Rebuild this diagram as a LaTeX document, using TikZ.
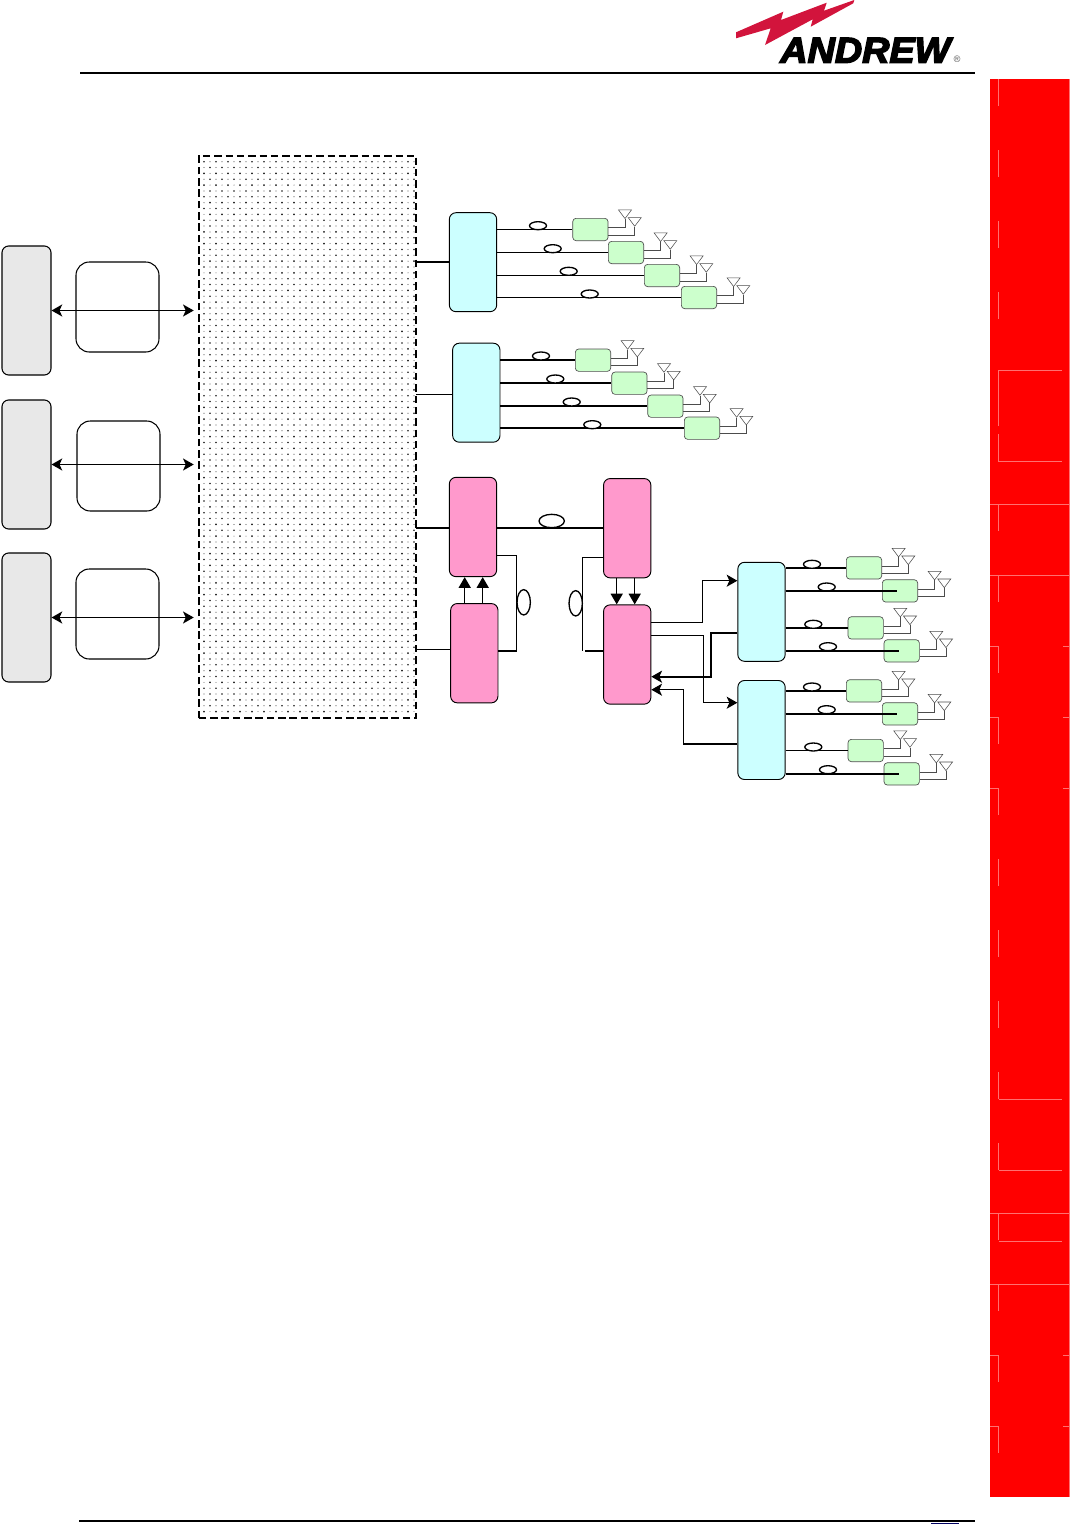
\documentclass[tikz,border=0pt]{standalone}
\usepackage{fontspec}
\usepackage{tikz}
\usetikzlibrary{arrows.meta,shapes.geometric}
\newfontfamily\logofont[UprightFont=* Bold Italic,FakeBold=4]{Liberation Sans}
\definecolor{Bolt}{HTML}{D2143C}
\definecolor{Aqua}{HTML}{CCFFFF}
\definecolor{Mint}{HTML}{CCFFCC}
\definecolor{Rose}{HTML}{FF99CC}
\definecolor{Stone}{HTML}{E8E8E8}
\definecolor{Tab}{HTML}{FF7070}
\definecolor{Navy}{HTML}{000060}

\begin{document}
\begin{tikzpicture}[
    x=0.75pt,y=-0.75pt,
    host/.style={draw,line width=0.8pt,rounded corners=5pt,fill=Stone,minimum width=36.75pt,minimum height=96.75pt},
    link/.style={draw,line width=0.8pt,rounded corners=10pt,fill=white,minimum width=62.25pt,minimum height=67.5pt},
    split/.style={draw,line width=0.7pt,rounded corners=5pt,fill=Aqua,minimum width=35.5pt,minimum height=74.25pt},
    conv/.style={draw,line width=0.7pt,rounded corners=5pt,fill=Rose,minimum width=35.5pt,minimum height=74.5pt},
    remote/.style={draw=black!70,line width=0.5pt,rounded corners=2.5pt,fill=Mint,minimum width=26.5pt,minimum height=16.75pt},
    coil/.style={ellipse,draw,line width=1pt,fill=white,inner sep=0pt,minimum width=12.75pt,minimum height=6pt},
    bigcoil/.style={ellipse,draw,line width=1pt,fill=white,inner sep=0pt,minimum width=19pt,minimum height=10pt},
    ant/.style={isosceles triangle,isosceles triangle apex angle=74,shape border rotate=270,draw=black!70,
      line width=0.4pt,fill=white,inner sep=0pt,minimum size=6.5pt,anchor=apex},
    feed/.style={line width=1.1pt},
    heavy/.style={line width=1.6pt},
    wire/.style={black!70,line width=0.6pt},
    both/.style={line width=1.1pt,{Stealth[length=8pt,width=9pt,inset=2pt]}-{Stealth[length=8pt,width=9pt,inset=2pt]}},
    route/.style={line width=1.1pt,-{Stealth[length=8pt,width=9pt,inset=2pt]}},
    push/.style={line width=1.1pt,-{Triangle[length=8pt,width=9pt]}},
    tabline/.style={Tab,line width=0.6pt}
  ]
    \useasboundingbox (0,0) rectangle (1070,1524);
    % page furniture
    \fill[Bolt] (736,32.3)--(783.3,11.7)--(781,20)--(826.7,2.7)--(824,10.7)--(854.3,0)--(853.3,3.3)
      --(810.7,26.7)--(812.7,19.3)--(765,45)--(770.7,28.3)--(736,38.3)--cycle;
    \node[anchor=base west,inner sep=0pt,xscale=1.05] (logo) at (780,62.7) {\logofont\fontsize{27}{27}\selectfont ANDREW};
    \node[inner sep=0pt,font=\fontsize{7}{7}\selectfont\sffamily,text=black!75] (reg) at (957,59) {\textregistered};
    \draw[line width=1.5pt] (80,72.8)--(975,72.8);
    \draw[line width=0.9pt] (79,1521)--(975,1521);
    \draw[Navy,line width=0.6pt] (931,1523.3)--(959,1523.3);
    \fill[red] (990,79) rectangle (1069,1497);
    \draw[tabline] (1069.5,79)--(1069.5,1497);
    \foreach \y in {79,150,221,292,504,575,646,717,788,859,930,1001,1072,1143,1213,1284,1355,1426}
      \draw[tabline] (998.5,\y)--++(0,27);
    \draw[tabline] (1062,370)--(998.5,370)--(998.5,426);
    \draw[tabline] (998.5,434)--(998.5,461)--(1062,461);
    \foreach \y in {1099,1170,1241}
      \draw[tabline] (998.5,\y)--(1062,\y);
    \foreach \y in {504,575,1213,1284}
      \draw[tabline] (990,\y)--(1069,\y);
    \foreach \y in {646,717,788,1355,1426} {
      \draw[tabline] (990,\y)--(998.5,\y);
      \draw[tabline] (1063,\y)--(1069,\y);
    }
    % network block
    \node[draw=none,minimum width=162.75pt,minimum height=421.5pt,inner sep=0pt] (net) at (307.5,437) {};
    \fill[black!90] \foreach \r in {0,...,94} {
      \foreach \c in {0,...,17} { ({204+12*\c+6*mod(\r,2)},{161.7+5.85*\r}) circle (0.7pt) }
    };
    \fill[black!60] \foreach \r in {0,...,94} {
      \foreach \c in {0,...,17} { ({210+12*\c-6*mod(\r,2)},{161.7+5.85*\r}) circle (0.45pt) }
    };
    \draw[line width=1.4pt,dash pattern=on 5.6pt off 2.9pt] (net.south west) rectangle (net.north east);
    % left column
    \foreach \n/\y/\lx/\ly in {1/310.5/117.5/307,2/464.5/118.5/466,3/617.5/117.5/614} {
      \node[host] (h\n) at (26.5,\y) {};
      \node[link] (l\n) at (\lx,\ly) {};
      \draw[both] (h\n.east) -- ([xshift=-3.75pt]h\n.east -| net.west);
    }
    % splitters and converters
    \node[split] (sp1) at (473,262.2) {};
    \node[split] (sp2) at (476.3,392.7) {};
    \node[split] (sp3) at (761.5,611.8) {};
    \node[split] (sp4) at (761.5,730) {};
    \node[conv] (ca) at (473,527) {};
    \node[conv] (cb) at (474.3,653.2) {};
    \node[conv] (cc) at (627.2,528.2) {};
    \node[conv] (cd) at (627.2,654.5) {};
    \draw[feed] (net.east |- sp1) -- (sp1);
    \draw[feed] (net.east |- 0,394.5) -- (sp2.west |- 0,394.5);
    \draw[feed] (net.east |- 0,528) -- (ca.west |- 0,528);
    \draw[feed] (net.east |- 0,649.7) -- (cb.west |- 0,649.7);
    \draw[heavy] (ca.east |- 0,528) -- (cc.west |- 0,528);
    \node[bigcoil] (kab) at (551.7,521) {};
    % fibre loops
    \draw[line width=0.7pt] (ca.east |- 0,555.3) -| (516.7,651);
    \draw[heavy] (516.7,651) -- (cb.east |- 0,651);
    \draw[line width=0.7pt] (cc.west |- 0,557.3) -| (582.7,651);
    \draw[heavy] (585,651) -- (cd.west |- 0,651);
    \node[bigcoil,rotate=90] (kl) at (523.7,602.3) {};
    \node[bigcoil,rotate=90] (kr) at (575.7,603.3) {};
    \foreach \x in {464.7,482.7}
      \draw[push] (\x,0 |- cb.north) -- (\x,0 |- ca.south);
    \foreach \x in {616.7,634.7}
      \draw[push] (\x,0 |- cc.south) -- (\x,0 |- cd.north);
    \draw[route] (cd.east |- 0,622.7) -| (702.7,580.7) -- (sp3.west |- 0,580.7);
    \draw[route] (cd.east |- 0,635.7) -| (703.7,702.7) -- (sp4.west |- 0,702.7);
    \draw[route,line width=1.6pt] (sp3.west |- 0,633) -| (711,676.7) -- (cd.east |- 0,676.7);
    \draw[route] (sp4.west |- 0,744) -| (683.7,689.7) -- (cd.east |- 0,689.7);
    % remote units with two antennas each
    \foreach \s/\n/\x/\y/\kx/\ky in {
      sp1/11/590.4/229.5/538/225.7,sp1/12/626/252.5/552.7/248.7,
      sp1/13/662/275.5/568.7/271.3,sp1/14/699/297.5/589.7/294,
      sp2/21/593/360.2/541/356,sp2/22/629.4/383.2/555.3/379,
      sp2/23/665.4/406.2/571.7/402,sp2/24/702/428.2/592.3/424.7,
      sp3/31/864/567.9/812/564.3,sp3/32/900/590.9/826.7/587,
      sp3/33/865.7/627.9/813.3/624.3,sp3/34/901.7/650.9/828/646.7,
      sp4/41/864/690.9/812/687,sp4/42/900/713.9/826.7/709.7,
      sp4/43/865.7/750.5/813.3/747,sp4/44/901.7/773.9/828/769.7} {
      \node[remote] (g\n) at (\x,\y) {};
      \draw[feed] (\s.east |- g\n.west) -- (g\n.west);
      \node[coil] (k\n) at (\kx,\ky) {};
      \node[ant] (a\n) at ([shift={(34.6,-10.5)}]g\n.center) {};
      \node[ant] (b\n) at ([shift={(44.3,-2.8)}]g\n.center) {};
      \draw[wire] ([shift={(0,-1.8)}]g\n.east) -| (a\n.apex);
      \draw[wire] ([shift={(0,5.5)}]g\n.east) -| (b\n.apex);
    }
    \foreach \s/\n in {sp3/32,sp3/34,sp4/42,sp4/44}
      \draw[heavy] (\s.east |- g\n.west) -- ([shift={(-3,0)}]g\n.center);
  \end{tikzpicture}
\end{document}
